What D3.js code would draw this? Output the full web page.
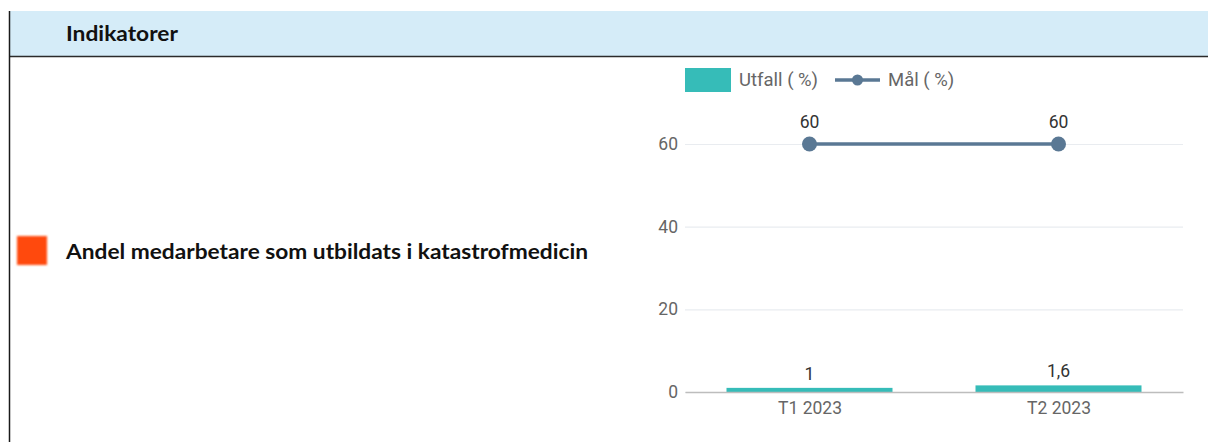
<!DOCTYPE html>
<html>
<head>
<meta charset="utf-8">
<script src="https://cdn.jsdelivr.net/npm/d3@7"></script>
<style>
  html, body { margin: 0; padding: 0; background: #fff; }
  svg { display: block; }
</style>
</head>
<body>
<svg id="chart" width="1208" height="442"></svg>
<script>
// Indicator panel data
const headerTitle = "Indikatorer";
const indicatorName = "Andel medarbetare som utbildats i katastrofmedicin";
const periods = ["T1 2023", "T2 2023"];
const utfall = [1, 1.6];
const mal = [60, 60];
const yTicks = [0, 20, 40, 60];
const legendLabels = ["Utfall ( %)", "Mål ( %)"];

const fmt = v => String(v).replace(".", ",");

const svg = d3.select("#chart");
const W = 1208, H = 442;

// Header band
svg.append("rect").attr("x", 9).attr("y", 11).attr("width", W - 9).attr("height", 45)
  .attr("fill", "#d5ecf8");
svg.append("line").attr("x1", 9).attr("x2", W).attr("y1", 56.5).attr("y2", 56.5)
  .attr("stroke", "#2b2b2b").attr("stroke-width", 1.5);
svg.append("line").attr("x1", 9.5).attr("x2", 9.5).attr("y1", 11).attr("y2", H)
  .attr("stroke", "#1a1a1a").attr("stroke-width", 1.5);
svg.append("text").attr("x", 66).attr("y", 41)
  .attr("font-family", "Lato, 'Open Sans', sans-serif").attr("font-weight", 700)
  .attr("font-size", 21).attr("fill", "#111")
  .attr("textLength", 112).attr("lengthAdjust", "spacingAndGlyphs").text(headerTitle);

// Status marker and indicator name
const defs = svg.append("defs");
defs.append("filter").attr("id", "soft").append("feGaussianBlur").attr("stdDeviation", 0.9);
svg.append("rect").attr("x", 17).attr("y", 236).attr("width", 30).attr("height", 29)
  .attr("fill", "#ff4a0a").attr("filter", "url(#soft)");
svg.append("text").attr("x", 66).attr("y", 259)
  .attr("font-family", "Lato, 'Open Sans', sans-serif").attr("font-weight", 700)
  .attr("font-size", 21).attr("fill", "#111")
  .attr("textLength", 522).attr("lengthAdjust", "spacingAndGlyphs").text(indicatorName);

// Chart
const plot = { left: 685, right: 1183, top: 144, bottom: 392 };
const x = d3.scaleBand().domain(periods).range([plot.left, plot.right])
  .paddingInner(1/3).paddingOuter(1/6);
const xc = d3.scalePoint().domain(periods).range([plot.left, plot.right]).padding(0.5);
const y = d3.scaleLinear().domain([0, 60]).range([plot.bottom, plot.top]);

const font = "Roboto, sans-serif";
const fs = 17.5;
const g = svg.append("g");

// Gridlines and y labels
const yAxis = d3.axisLeft(y).tickValues(yTicks).tickSize(-(plot.right - plot.left)).tickPadding(7);
const ya = g.append("g").attr("transform", `translate(${plot.left},0)`).call(yAxis);
ya.select(".domain").remove();
ya.selectAll(".tick line").attr("stroke", "#e9ecf0").attr("stroke-width", 1.2);
ya.selectAll(".tick text").attr("font-family", font).attr("font-size", fs).attr("fill", "#666")
  .attr("x", -7);

// Bars
g.selectAll(".bar").data(periods).enter().append("rect")
  .attr("x", d => x(d)).attr("width", x.bandwidth())
  .attr("y", (d, i) => y(utfall[i])).attr("height", (d, i) => y(0) - y(utfall[i]))
  .attr("fill", "#36bcb8");

// X axis
const xAxis = d3.axisBottom(xc).tickSize(0).tickPadding(10);
const xa = g.append("g").attr("transform", `translate(0,${plot.bottom})`).call(xAxis);
xa.select(".domain").attr("stroke", "#bdbdbd").attr("stroke-width", 1.5);
xa.selectAll(".tick text").attr("font-family", font).attr("font-size", fs).attr("fill", "#666");

// Bar labels
g.selectAll(".blab").data(periods).enter().append("text")
  .attr("x", d => xc(d)).attr("y", (d, i) => y(utfall[i]) - 8)
  .attr("text-anchor", "middle").attr("font-family", font).attr("font-size", fs).attr("fill", "#333")
  .text((d, i) => fmt(utfall[i]));

// Target line
const line = d3.line().x(d => xc(d.p)).y(d => y(d.v));
const pts = periods.map((p, i) => ({ p, v: mal[i] }));
g.append("path").datum(pts).attr("d", line).attr("fill", "none")
  .attr("stroke", "#5a7894").attr("stroke-width", 3.5);
g.selectAll(".pt").data(pts).enter().append("circle")
  .attr("cx", d => xc(d.p)).attr("cy", d => y(d.v)).attr("r", 7.5).attr("fill", "#5a7894");
g.selectAll(".plab").data(pts).enter().append("text")
  .attr("x", d => xc(d.p)).attr("y", d => y(d.v) - 16)
  .attr("text-anchor", "middle").attr("font-family", font).attr("font-size", fs).attr("fill", "#333")
  .text(d => fmt(d.v));

// Legend
const lg = svg.append("g");
lg.append("rect").attr("x", 685).attr("y", 68).attr("width", 46).attr("height", 24).attr("fill", "#36bcb8");
lg.append("text").attr("x", 739).attr("y", 86).attr("font-family", font).attr("font-size", 18.5)
  .attr("fill", "#666").text(legendLabels[0]);
lg.append("line").attr("x1", 835).attr("x2", 880).attr("y1", 80).attr("y2", 80)
  .attr("stroke", "#5a7894").attr("stroke-width", 3.5);
lg.append("circle").attr("cx", 857.5).attr("cy", 80).attr("r", 5.5).attr("fill", "#5a7894");
lg.append("text").attr("x", 888).attr("y", 86).attr("font-family", font).attr("font-size", 18.5)
  .attr("fill", "#666").text(legendLabels[1]);
</script>
</body>
</html>
